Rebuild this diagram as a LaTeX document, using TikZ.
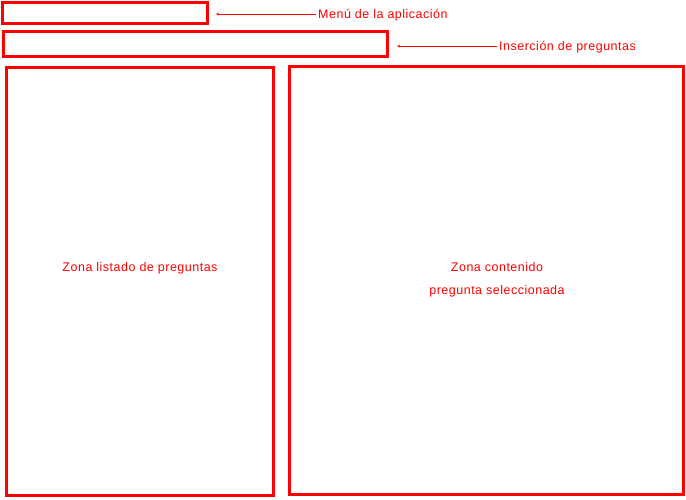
\documentclass[tikz,border=0pt]{standalone}
\usepackage{fontspec}
\setmainfont[LetterSpace=4]{Liberation Sans}
\usepackage{tikz}
\usetikzlibrary{calc, positioning, arrows}
\tikzstyle{caja}=[draw=red, line width=3pt, outer sep=0pt, inner sep=0pt]
\tikzstyle{etiq}=[text=red, font=\fontsize{12.5}{23}\selectfont, inner sep=2pt]
\tikzset{>=stealth}

\begin{document}
\begin{tikzpicture}[x=1pt, y=-1pt]
\useasboundingbox (0,0) rectangle (686,499);
\node[caja, minimum width=205pt, minimum height=21pt] (M0) at (105,13) {};
\node[caja, minimum width=384pt, minimum height=25pt] (I0) at (195.5,44) {};
\node[caja, minimum width=267pt, minimum height=428pt] (L0) at (140,281.5) {};
\node[caja, minimum width=394pt, minimum height=428pt] (C0) at (486.5,280.5) {};
\node[etiq, anchor=west] (M1) at (316,15.5) {Menú de la aplicación};
\node[etiq, anchor=west] (I1) at (497,47) {Inserción de preguntas};
\node[etiq] (L1) at (140,268) {Zona listado de preguntas};
\node[etiq, align=center] (C1) at (497,280) {Zona contenido\\pregunta seleccionada};
\coordinate (M2) at ($(M1.west)+(0,-1.5)$);
\coordinate (I2) at ($(I1.west)+(0,-1)$);
\draw[->, red, thin, shorten >=8.5pt] (M2) -- (M2 -| M0.east);
\draw[->, red, thin, shorten >=9.5pt] (I2) -- (I2 -| I0.east);
\end{tikzpicture}
\end{document}
